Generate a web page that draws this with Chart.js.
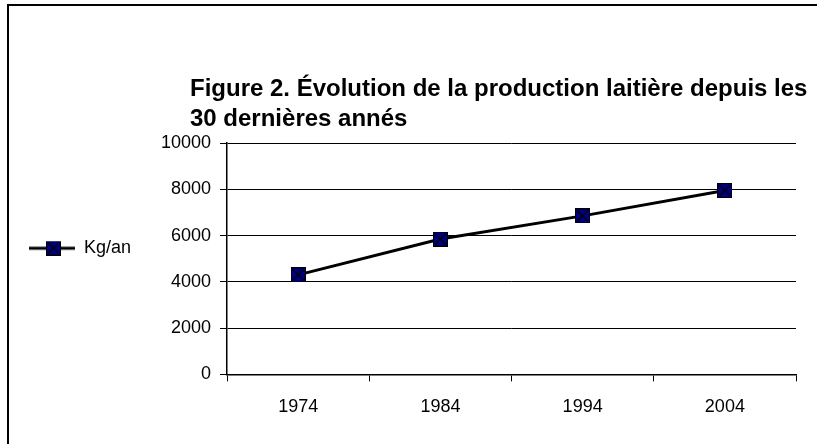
<!DOCTYPE html>
<html>
<head>
<meta charset="utf-8">
<script src="https://cdn.jsdelivr.net/npm/chart.js@4.4.1/dist/chart.umd.min.js"></script>
<style>
    html, body { margin: 0; background: #fff; overflow: hidden; }
    #wrap { width: 817px; height: 444px; position: relative; }
</style>
</head>
<body>
<div id="wrap"><canvas id="myChart"></canvas></div>
<script>
// data
const years = ['1974', '1984', '1994', '2004'];
const kgPerYear = [4300, 5850, 6850, 7950];
const yTicks = [0, 2000, 4000, 6000, 8000, 10000];
const seriesName = 'Kg/an';
const titleLines = [
    'Figure 2. Évolution de la production laitière depuis les',
    '30 dernières annés'
];

const FONT = "'Liberation Sans', Arial, sans-serif";

// navy square with a black cross, like the old Excel marker
function makeMarker(size) {
    const c = document.createElement('canvas');
    c.width = size; c.height = size;
    const g = c.getContext('2d');
    g.fillStyle = '#000080';
    g.fillRect(0, 0, size, size);
    g.strokeStyle = '#000';
    g.lineWidth = 1;
    g.strokeRect(0.5, 0.5, size - 1, size - 1);
    g.lineWidth = 1.3;
    g.beginPath();
    g.moveTo(2, 2); g.lineTo(size - 2, size - 2);
    g.moveTo(size - 2, 2); g.lineTo(2, size - 2);
    g.stroke();
    return c;
}
const marker = makeMarker(15);

// legend swatch: line through the marker
function makeLegendSwatch() {
    const c = document.createElement('canvas');
    c.width = 46; c.height = 16;
    const g = c.getContext('2d');
    g.strokeStyle = '#000';
    g.lineWidth = 3;
    g.beginPath(); g.moveTo(0, 8); g.lineTo(46, 8); g.stroke();
    g.drawImage(marker, 17, 0.5);
    return c;
}
const legendSwatch = makeLegendSwatch();
const blank = document.createElement('canvas');
blank.width = 1; blank.height = 1;

// the old frame round the chart, only left and top edges show
const framePlugin = {
    id: 'frame',
    beforeDraw(chart) {
        const ctx = chart.ctx;
        ctx.save();
        ctx.strokeStyle = '#000';
        ctx.lineWidth = 2;
        ctx.beginPath();
        ctx.moveTo(8, chart.height + 5);
        ctx.lineTo(8, 5);
        ctx.lineTo(chart.width + 5, 5);
        ctx.stroke();
        ctx.restore();
    }
};

// two-line title, left aligned a bit left of the plot
const titlePlugin = {
    id: 'figTitle',
    afterDraw(chart) {
        const ctx = chart.ctx;
        ctx.save();
        ctx.fillStyle = '#000';
        ctx.font = 'bold 24px ' + FONT;
        ctx.textBaseline = 'alphabetic';
        ctx.fillText(titleLines[0], 190, 96);
        ctx.fillText(titleLines[1], 190, 126);
        ctx.restore();
    }
};

const ctx = document.getElementById('myChart').getContext('2d');
const chart = new Chart(ctx, {
    type: 'line',
    data: {
        labels: years,
        datasets: [{
            label: seriesName,
            data: kgPerYear,
            borderColor: '#000',
            borderWidth: 3,
            tension: 0,
            pointStyle: marker,
            pointRadius: 8,
            pointHoverRadius: 8
        }]
    },
    options: {
        responsive: true,
        maintainAspectRatio: false,
        animation: false,
        layout: { padding: { left: 26, right: 21, top: 143, bottom: 11 } },
        plugins: {
            tooltip: { enabled: false },
            legend: {
                position: 'left',
                fullSize: false,
                labels: {
                    font: { family: FONT, size: 18 },
                    color: '#000',
                    usePointStyle: true,
                    pointStyleWidth: 46,
                    padding: 3,
                    // second, empty entry only lifts the real one a bit above the middle
                    generateLabels: () => [
                        { text: seriesName, pointStyle: legendSwatch, fillStyle: '#000', strokeStyle: '#000', lineWidth: 0, hidden: false, datasetIndex: 0 },
                        { text: '', pointStyle: blank, fillStyle: 'rgba(0,0,0,0)', strokeStyle: 'rgba(0,0,0,0)', lineWidth: 0, hidden: false }
                    ]
                },
                onClick: () => {}
            }
        },
        scales: {
            x: {
                offset: true,
                grid: {
                    offset: true,
                    drawOnChartArea: false,
                    drawTicks: true,
                    tickLength: 7,
                    color: '#000'
                },
                border: { color: '#000', width: 1.5 },
                ticks: { font: { family: FONT, size: 18 }, color: '#000', padding: 15 }
            },
            y: {
                min: 0,
                max: 10000,
                afterBuildTicks: (axis) => { axis.ticks = yTicks.map(v => ({ value: v })); },
                afterFit: (axis) => { axis.width = 86; },
                grid: { color: '#000', lineWidth: 1, tickLength: 7 },
                border: { color: '#000', width: 1.5 },
                ticks: {
                    font: { family: FONT, size: 18 },
                    color: '#000',
                    padding: 9,
                    callback: (v) => String(v)
                }
            }
        }
    },
    plugins: [framePlugin, titlePlugin]
});
</script>
</body>
</html>
